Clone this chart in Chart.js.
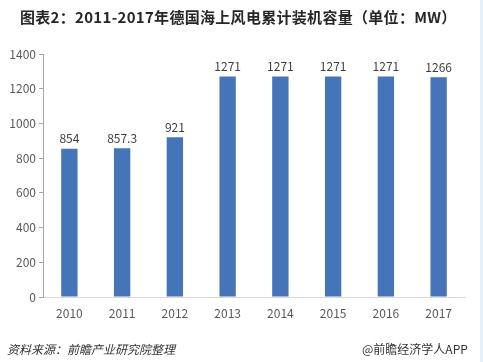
<!DOCTYPE html>
<html>
<head>
<meta charset="utf-8">
<script src="https://cdn.jsdelivr.net/npm/chart.js@4"></script>
<style>
    body { margin: 0; background: #fff; font-family: "Noto Sans CJK SC", sans-serif; }
    #wrap { position: relative; width: 483px; height: 362px; overflow: hidden; }
    #chart { position: absolute; left: 0; top: 0; }
    .title { position: absolute; left: 20px; top: 6px; font-size: 15px; font-weight: bold; color: #262626; white-space: nowrap; letter-spacing: 0.3px; }
    .src { position: absolute; left: 7px; top: 340px; font-size: 12px; font-style: italic; color: #333; }
    .brand { position: absolute; left: 362px; top: 340px; font-size: 12px; color: #333; }
    .edge { position: absolute; right: 0; top: 0; width: 3px; height: 362px; background: #e6f0fa; }
</style>
</head>
<body>
<div id="wrap">
    <canvas id="chart" width="483" height="362"></canvas>
    <div class="title">图表2：2011-2017年德国海上风电累计装机容量（单位：MW）</div>
    <div class="src">资料来源：前瞻产业研究院整理</div>
    <div class="brand">@前瞻经济学人APP</div>
    <div class="edge"></div>
</div>
<script>
// data
const years = ["2010", "2011", "2012", "2013", "2014", "2015", "2016", "2017"];
const capacity = [854, 857.3, 921, 1271, 1271, 1271, 1271, 1266];
const yTicks = [0, 200, 400, 600, 800, 1000, 1200, 1400];

// value labels above bars
const barLabels = {
    id: "barLabels",
    afterDatasetsDraw(chart) {
        const ctx = chart.ctx;
        const meta = chart.getDatasetMeta(0);
        ctx.save();
        ctx.font = "12px 'Noto Sans CJK SC', sans-serif";
        ctx.fillStyle = "#404040";
        ctx.textAlign = "center";
        ctx.textBaseline = "bottom";
        meta.data.forEach((bar, i) => {
            ctx.fillText(String(capacity[i]), bar.x, bar.y - 4);
        });
        ctx.restore();
    }
};

const ctx = document.getElementById("chart").getContext("2d");
new Chart(ctx, {
    type: "bar",
    data: {
        labels: years,
        datasets: [{
            data: capacity,
            backgroundColor: "#4674b8",
            categoryPercentage: 1,
            barPercentage: 0.31
        }]
    },
    options: {
        responsive: false,
        animation: false,
        layout: { padding: { top: 54, right: 18, bottom: 35, left: 0 } },
        plugins: {
            legend: { display: false },
            tooltip: { enabled: false }
        },
        scales: {
            x: {
                grid: { display: false, drawTicks: false },
                border: { display: true, color: "#d9d9d9" },
                ticks: { color: "#595959", padding: 9, font: { size: 12, family: "'Noto Sans CJK SC', sans-serif" } },
                afterFit(scale) { scale.height = 30; }
            },
            y: {
                min: 0,
                max: 1400,
                afterBuildTicks(scale) { scale.ticks = yTicks.map(v => ({ value: v })); },
                grid: { drawOnChartArea: false, drawTicks: true, tickLength: 4, color: "#a6a6a6" },
                border: { display: true, color: "#a6a6a6" },
                ticks: {
                    color: "#595959",
                    padding: 3,
                    font: { size: 12, family: "'Noto Sans CJK SC', sans-serif" },
                    callback: v => String(v)
                },
                afterFit(scale) { scale.width = 43; }
            }
        }
    },
    plugins: [barLabels]
});
</script>
</body>
</html>
